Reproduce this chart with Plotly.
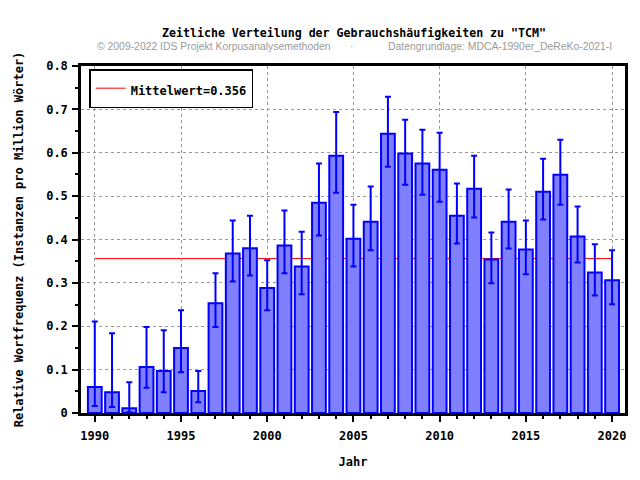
import plotly.graph_objects as go

years = list(range(1990, 2021))
values = [0.060, 0.048, 0.011, 0.106, 0.097, 0.150, 0.051, 0.253, 0.368, 0.380,
          0.288, 0.386, 0.338, 0.485, 0.593, 0.402, 0.441, 0.644, 0.598, 0.575,
          0.561, 0.455, 0.517, 0.354, 0.441, 0.377, 0.510, 0.549, 0.407, 0.324,
          0.306]
err_upper = [0.211, 0.184, 0.071, 0.198, 0.191, 0.237, 0.097, 0.322, 0.444, 0.455,
             0.352, 0.467, 0.418, 0.575, 0.694, 0.480, 0.522, 0.729, 0.676, 0.653,
             0.646, 0.529, 0.593, 0.416, 0.515, 0.444, 0.586, 0.630, 0.476, 0.389,
             0.375]
err_lower = [0.016, 0.014, 0.002, 0.058, 0.048, 0.094, 0.025, 0.198, 0.303, 0.317,
             0.237, 0.322, 0.274, 0.409, 0.508, 0.338, 0.375, 0.568, 0.526, 0.503,
             0.487, 0.391, 0.451, 0.299, 0.379, 0.320, 0.446, 0.480, 0.347, 0.271,
             0.251]
mean_value = 0.356

title_text = 'Zeitliche Verteilung der Gebrauchshäufigkeiten zu "TCM"'
subtitle_left = "© 2009-2022 IDS Projekt Korpusanalysemethoden"
subtitle_dot = "·"
subtitle_right = "Datengrundlage: MDCA-1990er_DeReKo-2021-I"

mono = "DejaVu Sans Mono"

fig = go.Figure()
# legend entry for the mean line (line itself drawn as a shape below the bars)
fig.add_trace(go.Scatter(
    x=[None], y=[None],
    mode="lines", line=dict(color="#FF0000", width=1),
    name="<span style='font-size:12px'><b>Mittelwert=%.3f</b></span>" % mean_value,
    showlegend=True,
))
fig.add_trace(go.Bar(
    x=years, y=values, width=0.8,
    marker=dict(color="#8080FF", line=dict(color="#0000FF", width=2)),
    error_y=dict(type="data", symmetric=False,
                 array=[u - v for u, v in zip(err_upper, values)],
                 arrayminus=[v - l for v, l in zip(values, err_lower)],
                 color="#0000FF", thickness=2, width=3),
    showlegend=False,
))
fig.add_shape(type="line", xref="x", yref="y", layer="below",
              x0=years[0], x1=years[-1], y0=mean_value, y1=mean_value,
              line=dict(color="#FF0000", width=1))

fig.update_layout(
    width=640, height=480,
    margin=dict(l=81, r=13, t=66, b=66),
    plot_bgcolor="white", paper_bgcolor="white",
    font=dict(family=mono, size=12, color="black"),
    title=dict(text="<b>" + title_text + "</b>", x=354 / 640, xanchor="center",
               y=1 - 33 / 480, yanchor="middle", font=dict(family=mono, size=11.6)),
    legend=dict(x=0.015, y=0.991, xanchor="left", yanchor="top",
                bordercolor="black", borderwidth=1.5, bgcolor="white",
                font=dict(family=mono, size=17), itemwidth=30),
    bargap=0.2,
)
sub_font = dict(family="Liberation Sans", size=10.4, color="#9a9a9a")
for txt, px in [(subtitle_left, 214), (subtitle_dot, 352), (subtitle_right, 502)]:
    fig.add_annotation(text=txt, xref="paper", yref="paper",
                       x=(px - 81) / 546, y=1 + (66 - 46) / 348, xanchor="center", yanchor="middle",
                       showarrow=False, font=sub_font)

fig.update_xaxes(
    range=[1989.2, 2020.75], tickmode="linear", tick0=1990, dtick=5,
    ticks="outside", ticklen=6, tickwidth=2, tickcolor="black",
    showline=True, linewidth=2.5, linecolor="black", mirror=True,
    showgrid=True, gridcolor="#999999", griddash="dot", gridwidth=1,
    tickfont=dict(family=mono, size=12), ticklabelstandoff=4,
    title=dict(text="<b>Jahr</b>", font=dict(family=mono, size=12), standoff=16),
    minor=dict(ticks="outside", ticklen=3, tickwidth=2, dtick=1, tick0=1990, tickcolor="black", showgrid=False),
    zeroline=False,
    tickprefix="<b>", ticksuffix="</b>",
)
fig.update_yaxes(
    range=[0, 0.8], tickmode="linear", tick0=0, dtick=0.1,
    ticks="outside", ticklen=6, tickwidth=2, tickcolor="black",
    showline=True, linewidth=2.5, linecolor="black", mirror=True,
    showgrid=True, gridcolor="#999999", griddash="dot", gridwidth=1,
    tickfont=dict(family=mono, size=12), ticklabelstandoff=2,
    title=dict(text="<b>Relative Wortfrequenz (Instanzen pro Million Wörter)</b>",
               font=dict(family=mono, size=12), standoff=20),
    minor=dict(ticks="outside", ticklen=3, tickwidth=2, dtick=0.05, tickcolor="black", showgrid=False),
    zeroline=False,
    tickprefix="<b>", ticksuffix="</b>",
)

fig.write_html("out.html")
